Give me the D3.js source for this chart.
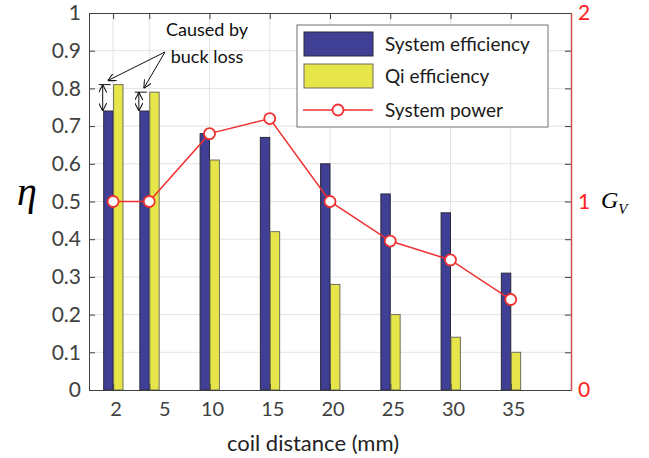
<!DOCTYPE html>
<html>
<head>
<meta charset="utf-8">
<script src="https://cdn.jsdelivr.net/npm/d3@7"></script>
<style>
  html, body { margin: 0; padding: 0; background: #fff; }
  svg { display: block; }
  text { font-family: Lato, "Open Sans", sans-serif; }
</style>
</head>
<body>
<svg id="chart" width="649" height="458"></svg>
<script>
// coil distance (mm)
const distances = [2, 5, 10, 15, 20, 25, 30, 35];
const distanceLabels = ["2", "5", "10", "15", "20", "25", "30", "35"];
// efficiencies (left axis)
const systemEfficiency = [0.74, 0.74, 0.68, 0.67, 0.60, 0.52, 0.47, 0.31];
const qiEfficiency     = [0.81, 0.79, 0.61, 0.42, 0.28, 0.20, 0.14, 0.10];
// voltage gain G_V (right axis)
const systemPower = [1.0, 1.0, 1.36, 1.44, 1.0, 0.79, 0.69, 0.48];
const leftTicks = [0, 0.1, 0.2, 0.3, 0.4, 0.5, 0.6, 0.7, 0.8, 0.9, 1];
const rightTicks = [0, 1, 2];
const legendLabels = ["System efficiency", "Qi efficiency", "System power"];

const svg = d3.select("#chart");
const L = 89, R = 571, T = 13, B = 390;

const x = d3.scaleLinear().domain([0, 40]).range([L, R]);
const yL = d3.scaleLinear().domain([0, 1]).range([B, T]);
const yR = d3.scaleLinear().domain([0, 2]).range([B, T]);

const blue = "#403f96", yellow = "#e6e64a", red = "#f03030";
const barW = 0.78; // bar width in mm units

// grid
const grid = svg.append("g");
grid.selectAll("line.h").data(leftTicks.slice(1, -1)).join("line")
  .attr("x1", L).attr("x2", R)
  .attr("y1", d => yL(d)).attr("y2", d => yL(d))
  .attr("stroke", "#e3e3e3").attr("stroke-width", 1);
grid.selectAll("line.v").data(distances).join("line")
  .attr("x1", d => x(d)).attr("x2", d => x(d))
  .attr("y1", T).attr("y2", B)
  .attr("stroke", "#e3e3e3").attr("stroke-width", 1);

// bars
const bars = svg.append("g");
bars.selectAll("rect.sys").data(distances).join("rect")
  .attr("x", (d) => x(d - barW))
  .attr("y", (d, i) => yL(systemEfficiency[i]))
  .attr("width", x(barW) - x(0))
  .attr("height", (d, i) => B - yL(systemEfficiency[i]))
  .attr("fill", blue).attr("stroke", "#2a2a3a").attr("stroke-width", 1);
bars.selectAll("rect.qi").data(distances).join("rect")
  .attr("x", (d) => x(d) + 0.5)
  .attr("y", (d, i) => yL(qiEfficiency[i]))
  .attr("width", x(barW) - x(0))
  .attr("height", (d, i) => B - yL(qiEfficiency[i]))
  .attr("fill", yellow).attr("stroke", "#6e6e5a").attr("stroke-width", 1);

// axes frame
const axisCol = "#404040";
// left axis
const leftAxis = d3.axisLeft(yL).tickValues(leftTicks).tickSize(-6).tickPadding(8)
  .tickFormat(d => d3.format("")(+d.toFixed(1)));
const gL = svg.append("g").attr("transform", `translate(${L},0)`).call(leftAxis);
gL.select(".domain").attr("stroke", axisCol);
gL.selectAll(".tick line").attr("stroke", axisCol);
gL.selectAll("text").attr("font-size", 21).attr("fill", "#404040")
  .attr("font-family", "Lato, sans-serif");

// bottom axis
const bottomAxis = d3.axisBottom(x).tickValues(distances).tickSize(-6).tickPadding(12)
  .tickFormat((d, i) => distanceLabels[i]);
const gB = svg.append("g").attr("transform", `translate(0,${B})`).call(bottomAxis);
gB.select(".domain").attr("stroke", axisCol);
gB.selectAll(".tick line").attr("stroke", axisCol);
gB.selectAll("text").attr("font-size", 20).attr("fill", "#404040")
  .attr("dx", d => d === 5 ? 15 : 2.5)
  .attr("font-family", "Lato, sans-serif");

// top border with mirrored ticks
const topAxis = d3.axisTop(x).tickValues(distances).tickSize(-6).tickFormat("");
const gT = svg.append("g").attr("transform", `translate(0,${T})`).call(topAxis);
gT.select(".domain").attr("stroke", axisCol);
gT.selectAll(".tick line").attr("stroke", axisCol);

// right axis: mirrored left ticks, then red G_V axis
const mirror = d3.axisRight(yL).tickValues(leftTicks).tickSize(-6).tickFormat("");
const gM = svg.append("g").attr("transform", `translate(${R},0)`).call(mirror);
gM.select(".domain").remove();
gM.selectAll(".tick line").attr("stroke", axisCol);

const rightAxis = d3.axisRight(yR).tickValues(rightTicks).tickSize(0).tickPadding(7)
  .tickFormat(d3.format("d"));
const gR = svg.append("g").attr("transform", `translate(${R},0)`).call(rightAxis);
gR.select(".domain").attr("stroke", "#cc5050").attr("stroke-width", 1.5);
gR.selectAll("text").attr("font-size", 21).attr("fill", "#ff2020")
  .attr("font-family", "Lato, sans-serif");

// system power line
const line = d3.line().x((d, i) => x(distances[i])).y(d => yR(d));
svg.append("path").datum(systemPower)
  .attr("d", line).attr("fill", "none")
  .attr("stroke", red).attr("stroke-width", 1.5);
svg.append("g").selectAll("circle").data(systemPower).join("circle")
  .attr("cx", (d, i) => x(distances[i])).attr("cy", d => yR(d)).attr("r", 5.5)
  .attr("fill", "#fff").attr("stroke", red).attr("stroke-width", 1.8);

// legend
const lg = svg.append("g").attr("transform", "translate(297,25)");
lg.append("rect").attr("x", 0).attr("y", 0).attr("width", 251).attr("height", 102)
  .attr("fill", "#fff").attr("stroke", "#707070").attr("stroke-width", 1);
lg.append("rect").attr("x", 7).attr("y", 7).attr("width", 69).attr("height", 24)
  .attr("fill", blue).attr("stroke", "#2a2a3a");
lg.append("rect").attr("x", 7).attr("y", 39).attr("width", 69).attr("height", 24)
  .attr("fill", yellow).attr("stroke", "#6e6e5a");
lg.append("line").attr("x1", 6).attr("x2", 76).attr("y1", 85).attr("y2", 85)
  .attr("stroke", red).attr("stroke-width", 1.5);
lg.append("circle").attr("cx", 41).attr("cy", 85).attr("r", 5.5)
  .attr("fill", "#fff").attr("stroke", red).attr("stroke-width", 1.8);
lg.selectAll("text").data(legendLabels).join("text")
  .attr("x", 88).attr("y", (d, i) => [19, 51, 85][i])
  .attr("dy", "0.35em").attr("font-size", 19).attr("fill", "#1a1a1a")
  .text(d => d);

// axis titles
svg.append("text").attr("x", 27).attr("y", 205)
  .attr("text-anchor", "middle")
  .style("font-family", "'Liberation Serif', 'DejaVu Serif', serif")
  .style("font-style", "italic").attr("font-size", 40).attr("fill", "#000")
  .text("η");
const gv = svg.append("text").attr("x", 601).attr("y", 208)
  .style("font-family", "'Liberation Serif', 'DejaVu Serif', serif")
  .style("font-style", "italic").attr("font-size", 24).attr("fill", "#000");
gv.append("tspan").text("G");
gv.append("tspan").attr("font-size", 15).attr("dy", 6).text("V");
svg.append("text").attr("x", (L + R) / 2 - 17).attr("y", 451)
  .attr("text-anchor", "middle").attr("font-size", 22).attr("fill", "#222")
  .text("coil distance (mm)");

// annotation: buck loss
const defs = svg.append("defs");
defs.append("marker").attr("id", "ah").attr("viewBox", "0 0 10 10")
  .attr("refX", 10).attr("refY", 5).attr("markerWidth", 8).attr("markerHeight", 8)
  .attr("orient", "auto-start-reverse").attr("markerUnits", "userSpaceOnUse")
  .append("path").attr("d", "M0,0 L10,5 L0,10").attr("fill", "none")
  .attr("stroke", "#111").attr("stroke-width", 1.3);

svg.append("text").attr("x", 207).attr("y", 30).attr("dy", "0.35em")
  .attr("text-anchor", "middle").attr("font-size", 18).attr("fill", "#111")
  .text("Caused by");
svg.append("text").attr("x", 207).attr("y", 57).attr("dy", "0.35em")
  .attr("text-anchor", "middle").attr("font-size", 18).attr("fill", "#111")
  .text("buck loss");

const ann = svg.append("g").attr("stroke", "#111").attr("stroke-width", 1).attr("fill", "none");
const arrowFrom = [165, 52];
[[0, qiEfficiency[0]], [1, qiEfficiency[1]]].forEach(([i, v]) => {
  const tx = x(distances[i] - barW) + 4;
  ann.append("line").attr("x1", arrowFrom[0]).attr("y1", arrowFrom[1])
    .attr("x2", tx).attr("y2", yL(v) - 4).attr("marker-end", "url(#ah)");
  // double arrow spanning the efficiency gap
  const dx = x(distances[i] - barW) - 1;
  ann.append("line").attr("x1", dx).attr("x2", dx)
    .attr("y1", yL(v)).attr("y2", yL(systemEfficiency[i]))
    .attr("marker-start", "url(#ah)").attr("marker-end", "url(#ah)");
  ann.append("line").attr("x1", dx - 4).attr("x2", dx + 8)
    .attr("y1", yL(v)).attr("y2", yL(v));
});
</script>
</body>
</html>
